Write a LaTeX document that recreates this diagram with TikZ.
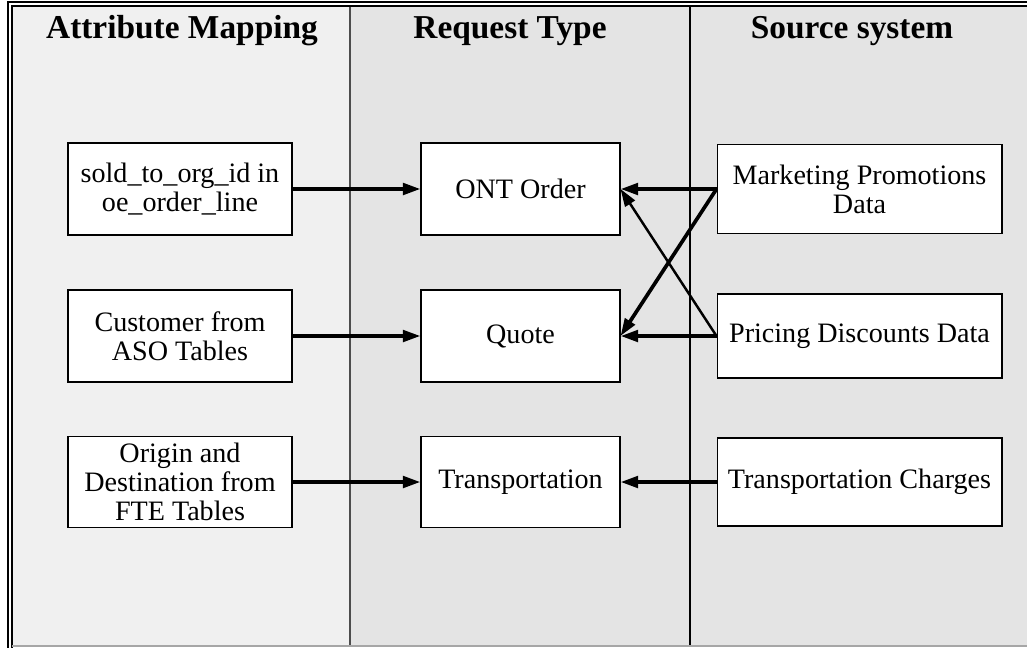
\documentclass[tikz,border=0pt]{standalone}
\usepackage{fontspec}
\setmainfont{Liberation Serif}
\usetikzlibrary{arrows.meta}
\definecolor{laneLight}{RGB}{240,240,240}
\definecolor{laneGray}{RGB}{228,228,228}

\begin{document}
\begin{tikzpicture}[x=0.02cm,y=-0.02cm,
    box/.style={draw, fill=white, line width=0.6pt, align=center, inner sep=0pt,
      font=\fontsize{16}{16.5}\selectfont},
    lanehead/.style={font=\fontsize{19}{22}\selectfont\bfseries},
    link/.style={line width=2.1pt, -{Triangle[length=10pt,width=6.5pt]}}]
  \useasboundingbox (0,0) rectangle (1027,647);

  % Swim lanes
  \fill[laneLight] (12,6) rectangle (350,646);
  \fill[laneGray] (350,6) rectangle (1027,646);
  \draw[black!70, line width=0.6pt] (350,6) -- (350,647);
  \draw[line width=0.9pt] (690,6) -- (690,647);

  % Outer frame (double line top and left)
  \draw[line width=0.8pt] (1030,2) -- (8,2) -- (8,650);
  \draw[line width=0.8pt] (1030,6) -- (12,6) -- (12,650);
  \draw[black!35, line width=0.8pt] (12,646) -- (1030,646);

  % Lane titles
  \node[lanehead] (hattr) at (182,31) {Attribute Mapping};
  \node[lanehead] (hreq) at (510,31) {Request Type};
  \node[lanehead] (hsrc) at (852,31) {Source system};

  % Attribute mapping
  \node[box, minimum width=4.48cm, minimum height=1.84cm] (sold) at (180,189)
    {sold\_to\_org\_id in\\oe\_order\_line};
  \node[box, minimum width=4.48cm, minimum height=1.84cm] (cust) at (180,336)
    {Customer from\\ASO Tables};
  \node[box, minimum width=4.48cm, minimum height=1.82cm] (orig) at (180,482)
    {Origin and\\Destination from\\FTE Tables};

  % Request types
  \node[box, minimum width=3.98cm, minimum height=1.84cm] (ont) at (520.5,189) {ONT Order};
  \node[box, minimum width=3.98cm, minimum height=1.84cm] (quote) at (520.5,336) {Quote};
  \node[box, minimum width=3.98cm, minimum height=1.82cm] (trans) at (520.5,482) {Transportation};

  % Source systems
  \node[box, minimum width=5.7cm, minimum height=1.78cm] (mkt) at (859.5,189)
    {Marketing Promotions\\Data};
  \node[box, minimum width=5.7cm, minimum height=1.68cm] (price) at (859.5,336)
    {Pricing Discounts Data};
  \node[box, minimum width=5.7cm, minimum height=1.76cm] (charges) at (859.5,482)
    {Transportation Charges};

  % Mapping arrows
  \draw[link] (sold.east) -- (ont.west);
  \draw[link] (cust.east) -- (quote.west);
  \draw[link] (orig.east) -- (trans.west);

  % Source arrows
  \draw[link] (mkt.west) -- (ont.east);
  \draw[link] (mkt.west) -- (quote.east);
  \draw[link, line width=1.4pt] (price.west) -- (ont.east);
  \draw[link] (price.west) -- (quote.east);
  \draw[link] (charges.west) -- (trans.east);
\end{tikzpicture}
\end{document}
